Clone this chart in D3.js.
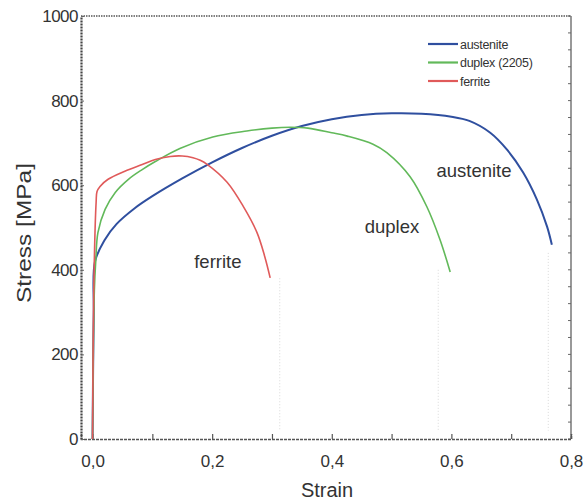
<!DOCTYPE html>
<html>
<head>
<meta charset="utf-8">
<script src="https://cdn.jsdelivr.net/npm/d3@7"></script>
<style>
  body { margin: 0; background: #fff; }
  text { font-family: "Liberation Sans", Arial, sans-serif; fill: #333; }
</style>
</head>
<body>
<div id="chart"></div>
<script>
// stress-strain curves
var austeniteStrain = [0, 0.002, 0.004, 0.02, 0.04, 0.07, 0.1, 0.15, 0.2, 0.25, 0.3, 0.35, 0.4, 0.45, 0.5, 0.55, 0.6, 0.63, 0.665, 0.693, 0.72, 0.743, 0.76, 0.768];
var austeniteStress = [0, 300, 419, 470, 508, 545, 574, 616, 654, 688, 717, 740, 756, 766, 770, 769, 762, 752, 724, 684, 630, 566, 502, 459];

var duplexStrain = [0, 0.003, 0.0055, 0.009, 0.021, 0.038, 0.06, 0.083, 0.105, 0.146, 0.201, 0.258, 0.3, 0.33, 0.36, 0.4, 0.426, 0.469, 0.492, 0.531, 0.559, 0.581, 0.598];
var duplexStress = [0, 350, 424, 488, 543, 583, 614, 637, 656, 687, 714, 728, 735, 737, 735, 724, 716, 697, 677, 620, 549, 471, 395];

var ferriteStrain = [0, 0.002, 0.006, 0.0075, 0.0125, 0.026, 0.054, 0.083, 0.105, 0.13, 0.15, 0.168, 0.18, 0.191, 0.225, 0.252, 0.275, 0.288, 0.297];
var ferriteStress = [0, 350, 560, 585, 597, 614, 633, 649, 661, 668, 669, 665, 659, 650, 607, 550, 488, 431, 381];

// fracture markers (faint dotted lines)
var fractureStrain = [0.313, 0.578, 0.762];
var fractureTop = [380, 400, 440];

var seriesNames = ["austenite", "duplex (2205)", "ferrite"];
var curveLabels = ["austenite", "duplex", "ferrite"];
var labelStrain = [0.575, 0.455, 0.17];
var labelStress = [620, 487, 405];

var xTicks = [0, 0.1, 0.2, 0.3, 0.4, 0.5, 0.6, 0.7, 0.8];
var xLabelTicks = [0, 0.2, 0.4, 0.6, 0.8];
var yTicks = [0, 200, 400, 600, 800, 1000];

var svgWidth = 586;
var svgHeight = 500;

var margin = { top: 16, right: 15, bottom: 61, left: 81 };
var width = svgWidth - margin.left - margin.right;
var height = svgHeight - margin.top - margin.bottom;

var colors = ["#2f4f9f", "#62b95a", "#e05a5a"];

var svg = d3.select("#chart")
    .append("svg")
    .attr("width", svgWidth)
    .attr("height", svgHeight);

var chartGroup = svg.append("g")
    .attr("transform", `translate(${margin.left}, ${margin.top})`);

var xScale = d3.scaleLinear()
    .domain([-0.0193, 0.8])
    .range([0, width]);

var yScale = d3.scaleLinear()
    .domain([0, 1000])
    .range([height, 0]);

// fracture dotted lines
fractureStrain.forEach(function(s, i) {
    chartGroup.append("line")
        .attr("x1", xScale(s)).attr("x2", xScale(s))
        .attr("y1", yScale(fractureTop[i])).attr("y2", yScale(20))
        .attr("stroke", "#d8d8d8")
        .attr("stroke-width", 1)
        .attr("stroke-dasharray", "1,2");
});

// frame: top dotted, right solid
chartGroup.append("line")
    .attr("x1", 0).attr("x2", width).attr("y1", 0).attr("y2", 0)
    .attr("stroke", "#555").attr("stroke-width", 1.3).attr("stroke-dasharray", "1.5,1");
chartGroup.append("line")
    .attr("x1", width).attr("x2", width).attr("y1", 0).attr("y2", height)
    .attr("stroke", "#777").attr("stroke-width", 1.5);

// right side small ticks
d3.range(0, 1001, 40).forEach(function(v) {
    chartGroup.append("line")
        .attr("x1", width - 3).attr("x2", width)
        .attr("y1", yScale(v)).attr("y2", yScale(v))
        .attr("stroke", "#666").attr("stroke-width", 1);
});

// axes
var fmt = function(d) { return d3.format(".1f")(d).replace(".", ","); };

var bottomAxis = d3.axisBottom(xScale)
    .tickValues(xTicks)
    .tickSize(-5)
    .tickFormat(function(d) { return xLabelTicks.some(v => Math.abs(v - d) < 1e-9) ? fmt(d) : ""; });

var leftAxis = d3.axisLeft(yScale)
    .tickValues(yTicks)
    .tickSizeInner(-3)
    .tickSizeOuter(0)
    .tickFormat(d3.format("d"));

var xAxisG = chartGroup.append("g")
    .attr("transform", `translate(0, ${height})`)
    .call(bottomAxis);
xAxisG.select(".domain").attr("stroke", "#555").attr("stroke-width", 1.5).attr("stroke-dasharray", "3,1");
xAxisG.selectAll(".tick line").attr("stroke", "#555").attr("stroke-width", 1.2);
xAxisG.selectAll(".tick text")
    .attr("y", 16)
    .attr("font-size", "17px")
    .attr("font-family", "Liberation Sans, Arial, sans-serif")
    .attr("fill", "#333");

var yAxisG = chartGroup.append("g")
    .call(leftAxis);
yAxisG.select(".domain").attr("stroke", "#444").attr("stroke-width", 2.2).attr("stroke-dasharray", "2,1");
yAxisG.selectAll(".tick line").attr("stroke", "#666");
yAxisG.selectAll(".tick text")
    .attr("x", -3)
    .attr("font-size", "17px")
    .attr("font-family", "Liberation Sans, Arial, sans-serif")
    .attr("letter-spacing", "-0.5px")
    .attr("fill", "#333");

// curves
var allStrain = [austeniteStrain, duplexStrain, ferriteStrain];
var allStress = [austeniteStress, duplexStress, ferriteStress];
var widths = [2, 1.6, 1.6];

var line = d3.line()
    .x(d => xScale(d[0]))
    .y(d => yScale(d[1]))
    .curve(d3.curveCatmullRom.alpha(0.5));

for (var i = 0; i < 3; i++) {
    var pts = allStrain[i].map((s, j) => [s, allStress[i][j]]);
    chartGroup.append("path")
        .datum(pts)
        .attr("fill", "none")
        .attr("stroke", colors[i])
        .attr("stroke-width", widths[i])
        .attr("d", line);
}

// curve labels
curveLabels.forEach(function(t, i) {
    chartGroup.append("text")
        .attr("x", xScale(labelStrain[i]))
        .attr("y", yScale(labelStress[i]))
        .attr("font-size", "18.5px")
        .text(t);
});

// legend
var legend = svg.append("g").attr("transform", "translate(428, 44)");
seriesNames.forEach(function(n, i) {
    legend.append("line")
        .attr("x1", 0).attr("x2", 30)
        .attr("y1", i * 18.5).attr("y2", i * 18.5)
        .attr("stroke", colors[i])
        .attr("stroke-width", 2.2);
    legend.append("text")
        .attr("x", 32)
        .attr("y", i * 18.5 + 4.5)
        .attr("font-size", "12.5px")
        .attr("letter-spacing", "-0.3px")
        .text(n);
});

// axis titles
svg.append("text")
    .attr("transform", "translate(31, 233) rotate(-90)")
    .attr("text-anchor", "middle")
    .attr("font-size", "20px")
    .attr("textLength", 140)
    .attr("lengthAdjust", "spacingAndGlyphs")
    .text("Stress [MPa]");

svg.append("text")
    .attr("x", 327)
    .attr("y", 497)
    .attr("text-anchor", "middle")
    .attr("font-size", "20px")
    .text("Strain");
</script>
</body>
</html>
